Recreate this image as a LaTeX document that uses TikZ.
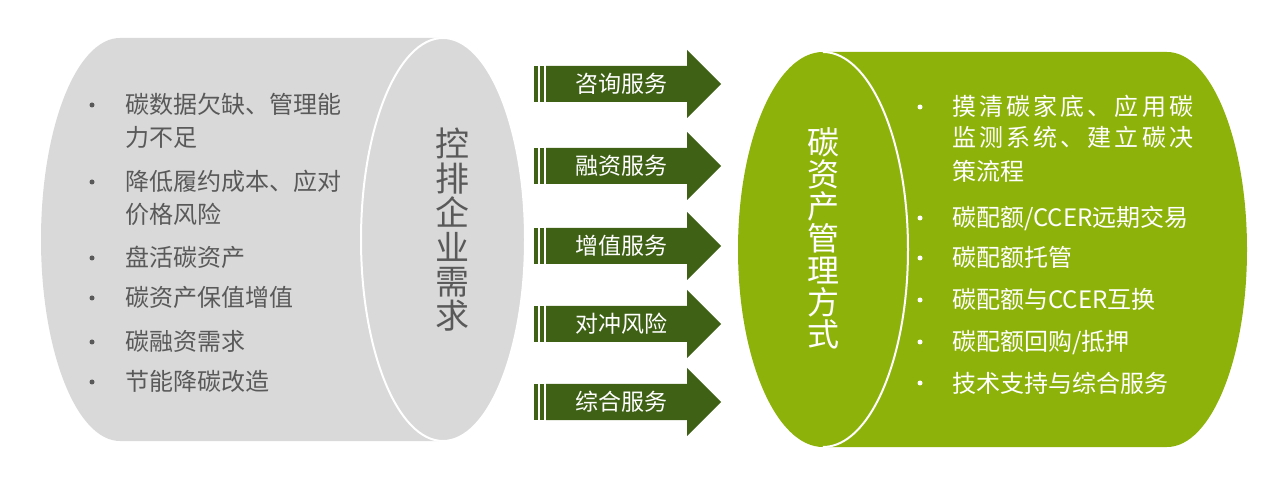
\documentclass[tikz,border=0pt]{standalone}
\usepackage{fontspec}
\setmainfont{Noto Sans CJK SC}
\definecolor{cylgray}{HTML}{D9D9D9}
\definecolor{cylgreen}{HTML}{8DB30B}
\definecolor{arrowgreen}{HTML}{3F6116}
\definecolor{textgray}{HTML}{595959}
\begin{document}
\begin{tikzpicture}[x=1pt,y=1pt,
  lefttext/.style={anchor=base west, inner sep=0pt, text=textgray, font=\fontsize{24}{28}\selectfont},
  righttext/.style={anchor=base west, inner sep=0pt, text=white, font=\fontsize{24}{28}\selectfont},
  leftdot/.style={circle, fill=textgray, inner sep=0pt, minimum size=5pt},
  rightdot/.style={circle, fill=white, inner sep=0pt, minimum size=5pt},
  arrowtext/.style={inner sep=0pt, text=white, font=\fontsize{23}{26}\selectfont},
  vtext/.style={inner sep=0pt, align=center}
]
\useasboundingbox (0,0) rectangle (1283,-486);

% left cylinder
\fill[cylgray] (120,-38) -- (443,-38)
  arc[start angle=90, end angle=-90, x radius=82, y radius=201.5]
  -- (120,-441)
  arc[start angle=-90, end angle=-270, x radius=79, y radius=201.5] -- cycle;
\draw[white, line width=2pt] (443,-239.5) ellipse [x radius=82, y radius=201.5];

% right cylinder
\fill[cylgreen] (823,-52) -- (1167,-52)
  arc[start angle=90, end angle=-90, x radius=80, y radius=197.5]
  -- (823,-447)
  arc[start angle=-90, end angle=-270, x radius=85, y radius=197.5] -- cycle;
\draw[white, line width=2pt] (823,-52)
  arc[start angle=90, end angle=-90, x radius=85, y radius=197.5];

% arrows
\foreach \n/\c/\t in {a1/84/咨询服务, a2/166/融资服务, a3/246/增值服务, a4/324/对冲风险, a5/402/综合服务}{
  \fill[arrowgreen] (534,-\c+18) rectangle (537.5,-\c-18);
  \fill[arrowgreen] (539.5,-\c+18) rectangle (544,-\c-18);
  \fill[arrowgreen] (546,-\c+18) -- (687,-\c+18) -- (687,-\c+34) -- (721,-\c)
    -- (687,-\c-34) -- (687,-\c-18) -- (546,-\c-18) -- cycle;
  \node[arrowtext] (\n) at (621,-\c) {\t};
}

% left vertical title
\node[vtext, text=textgray, font=\fontsize{34}{34.4}\selectfont] (ltitle) at (452,-230)
  {控\\排\\企\\业\\需\\求};

% left bullets
\node[leftdot] (lb1) at (92,-105) {};
\node[leftdot] (lb2) at (92,-182) {};
\node[leftdot] (lb3) at (92,-258) {};
\node[leftdot] (lb4) at (92,-298) {};
\node[leftdot] (lb5) at (92,-342) {};
\node[leftdot] (lb6) at (92,-382) {};
\node[lefttext] (l1) at (125,-114) {碳数据欠缺、管理能};
\node[lefttext] (l1b) at (125,-147) {力不足};
\node[lefttext] (l2) at (125,-191) {降低履约成本、应对};
\node[lefttext] (l2b) at (125,-224) {价格风险};
\node[lefttext] (l3) at (125,-267) {盘活碳资产};
\node[lefttext] (l4) at (125,-307) {碳资产保值增值};
\node[lefttext] (l5) at (125,-351) {碳融资需求};
\node[lefttext] (l6) at (125,-391) {节能降碳改造};

% right vertical title
\node[vtext, text=white, font=\fontsize{32}{32}\selectfont] (rtitle) at (823,-238.5)
  {碳\\资\\产\\管\\理\\方\\式};

% right bullets
\node[rightdot] (rb1) at (920,-107) {};
\node[rightdot] (rb2) at (920,-218) {};
\node[rightdot] (rb3) at (920,-258) {};
\node[rightdot] (rb4) at (920,-300) {};
\node[rightdot] (rb5) at (920,-342) {};
\node[rightdot] (rb6) at (920,-383) {};
\node[righttext] (r1) at (952,-116) {\makebox[241pt][s]{摸\hfill 清\hfill 碳\hfill 家\hfill 底\hfill 、\hfill 应\hfill 用\hfill 碳}};
\node[righttext] (r1b) at (952,-147) {\makebox[241pt][s]{监\hfill 测\hfill 系\hfill 统\hfill 、\hfill 建\hfill 立\hfill 碳\hfill 决}};
\node[righttext] (r1c) at (952,-181) {策流程};
\node[righttext] (r2) at (952,-227) {碳配额/CCER远期交易};
\node[righttext] (r3) at (952,-267) {碳配额托管};
\node[righttext] (r4) at (952,-309) {碳配额与CCER互换};
\node[righttext] (r5) at (952,-351) {碳配额回购/抵押};
\node[righttext] (r6) at (952,-392) {技术支持与综合服务};
\end{tikzpicture}
\end{document}
